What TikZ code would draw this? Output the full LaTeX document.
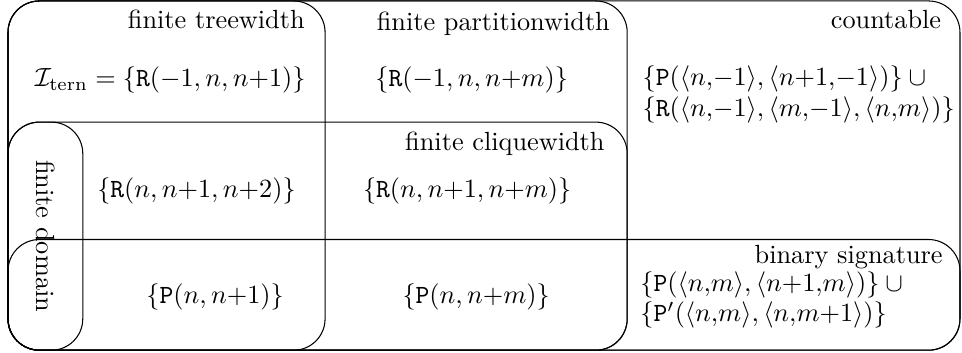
\documentclass[tikz,border=0pt]{standalone}
\usetikzlibrary{positioning,calc}

\begin{document}
\begin{tikzpicture}[
  region/.style={draw,rounded corners=4.2mm,anchor=south west,inner sep=0pt,outer sep=0pt},
  tag/.style={anchor=north east,inner sep=1pt},
  set/.style={anchor=base west,inner sep=0pt},
]
\useasboundingbox (-0.107,-0.027) rectangle (12.757,4.683);

% --- classes (all share the lower left corner) ---
\node[region,minimum width=12.73cm,minimum height=4.67cm] (cnt) at (0,0) {};
\node[region,minimum width=8.28cm,minimum height=4.67cm]  (pw)  at (0,0) {};
\node[region,minimum width=4.24cm,minimum height=4.67cm]  (tw)  at (0,0) {};
\node[region,minimum width=8.28cm,minimum height=3.05cm]  (cw)  at (0,0) {};
\node[region,minimum width=12.73cm,minimum height=1.48cm] (bin) at (0,0) {};
\node[region,minimum width=1cm,minimum height=3.05cm]     (fd)  at (0,0) {};

% --- class names ---
\node[tag] (twlab)  at ($(tw.north east)+(-0.23,-0.08)$)  {finite treewidth};
\node[tag] (pwlab)  at ($(pw.north east)+(-0.19,-0.10)$)  {finite partitionwidth};
\node[tag] (cntlab) at ($(cnt.north east)+(-0.21,-0.08)$) {countable};
\node[tag] (cwlab)  at ($(cw.north east)+(-0.26,-0.09)$)  {finite cliquewidth};
\node[tag] (binlab) at ($(bin.north east)+(-0.19,-0.03)$) {binary signature};
\node[rotate=-90] (fdlab) at (fd.center) {finite domain};

% --- first row ---
\node (itern) at (2.17,3.61) {$\mathcal{I}_{\mathrm{tern}}=\{\mathtt{R}(-1,n,n{+}1)\}$};
\node (rpw)   at (6.20,3.61) {$\{\mathtt{R}(-1,n,n{+}m)\}$};
\node[set] (rcnt1) at (8.48,3.54)
  {$\{\mathtt{P}(\langle n{,}{-}1\rangle,\langle n{+}1{,}{-}1\rangle)\}\cup{}$};
\node[set] (rcnt2) at (8.48,3.13)
  {$\{\mathtt{R}(\langle n{,}{-}1\rangle,\langle m{,}{-}1\rangle,\langle n{,}m\rangle)\}$};

% --- second row ---
\node (rfd) at (2.52,2.13) {$\{\mathtt{R}(n,n{+}1,n{+}2)\}$};
\node (rcw) at (6.14,2.13) {$\{\mathtt{R}(n,n{+}1,n{+}m)\}$};

% --- third row ---
\node (pfd) at (2.77,0.71) {$\{\mathtt{P}(n,n{+}1)\}$};
\node (pcw) at (6.26,0.71) {$\{\mathtt{P}(n,n{+}m)\}$};
\node[set] (pbin1) at (8.45,0.78)
  {$\{\mathtt{P}(\langle n{,}m\rangle,\langle n{+}1{,}m\rangle)\}\cup{}$};
\node[set] (pbin2) at (8.45,0.38)
  {$\{\mathtt{P}'(\langle n{,}m\rangle,\langle n{,}m{+}1\rangle)\}$};

\end{tikzpicture}
\end{document}
